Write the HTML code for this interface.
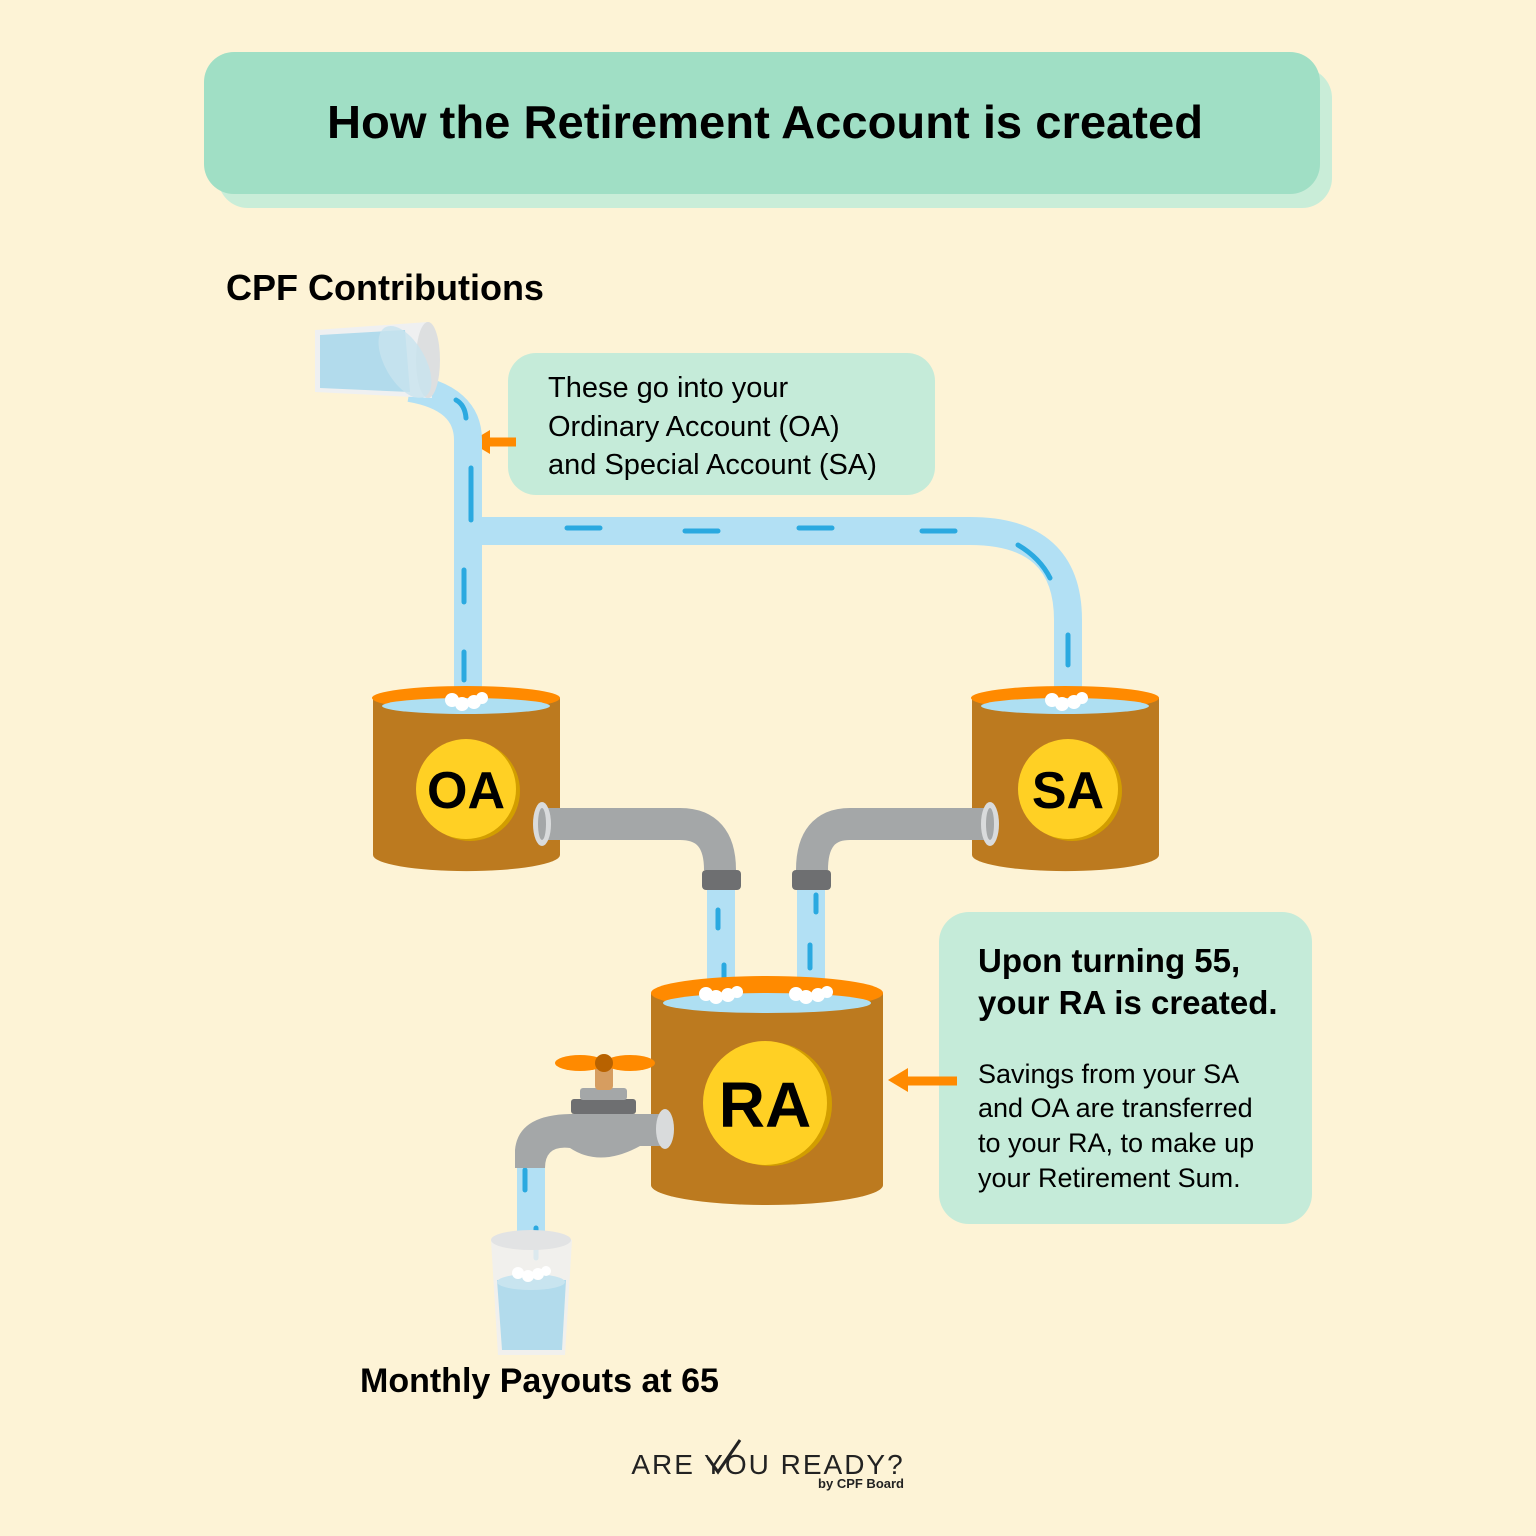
<!DOCTYPE html>
<html><head><meta charset="utf-8"><style>
html,body{margin:0;padding:0;background:#FDF3D6}
svg{display:block}
text{font-family:"Liberation Sans","DejaVu Sans",sans-serif}
</style></head><body>
<svg width="1536" height="1536" viewBox="0 0 1536 1536" xmlns="http://www.w3.org/2000/svg">
<rect width="1536" height="1536" fill="#FDF3D6"/>
<rect x="218" y="68" width="1114" height="140" rx="30" fill="#C9EDD8"/>
<rect x="204" y="52" width="1116" height="142" rx="30" fill="#A0DFC5"/>
<text x="765" y="138" font-size="46" font-weight="bold" text-anchor="middle" fill="#000" textLength="876" lengthAdjust="spacingAndGlyphs">How the Retirement Account is created</text>
<text x="226" y="300" font-size="36" font-weight="bold" fill="#000">CPF Contributions</text>

<rect x="508" y="353" width="427" height="142" rx="28" fill="#C5EBD9"/>
<text font-size="29" fill="#000"><tspan x="548" y="397">These go into your</tspan><tspan x="548" y="436">Ordinary Account (OA)</tspan><tspan x="548" y="474">and Special Account (SA)</tspan></text>
<path d="M516 442 H488" stroke="#FF8A00" stroke-width="9"/><polygon points="470,442 490,430 490,454" fill="#FF8A00"/>

<path d="M410 388 Q468 398 468 440 V700" fill="none" stroke="#B2E0F4" stroke-width="28"/>
<path d="M468 531 H970 Q1068 531 1068 620 V700" fill="none" stroke="#B2E0F4" stroke-width="28"/>
<g stroke="#2AA9E0" stroke-width="5" stroke-linecap="round" fill="none">
<path d="M456 400 Q465 405 466 418"/>
<path d="M471 468 V520"/><path d="M464 570 V602"/><path d="M464 652 V680"/>
<path d="M567 528 H600"/><path d="M685 531 H718"/><path d="M799 528 H832"/><path d="M922 531 H955"/>
<path d="M1018 545 Q1040 558 1050 578"/><path d="M1068 635 V665"/>
</g>
<path d="M315 330 L428 322 L432 398 L315 392 Z" fill="#EFF0F1"/>
<path d="M320 335 L405 330 L410 392 L320 388 Z" fill="#B2DBEC"/>
<ellipse cx="428" cy="360" rx="12" ry="38" fill="#DDDFE0"/>
<ellipse cx="405" cy="362" rx="20" ry="40" fill="#C8E4EF" opacity="0.8" transform="rotate(-30 405 362)"/>

<path d="M373 698 V855 A93 16 0 0 0 560 855 V698 Z" fill="#BC7A1F"/>
<ellipse cx="466" cy="698" rx="94" ry="12" fill="#FF8A00"/>
<ellipse cx="466" cy="706" rx="84" ry="8" fill="#AEDFF2"/>
<path d="M972 698 V855 A93 16 0 0 0 1159 855 V698 Z" fill="#BC7A1F"/>
<ellipse cx="1065" cy="698" rx="94" ry="12" fill="#FF8A00"/>
<ellipse cx="1065" cy="706" rx="84" ry="8" fill="#AEDFF2"/>
<g fill="#fff">
<circle cx="452" cy="700" r="7"/><circle cx="462" cy="704" r="7"/><circle cx="474" cy="702" r="7"/><circle cx="482" cy="698" r="6"/>
<circle cx="1052" cy="700" r="7"/><circle cx="1062" cy="704" r="7"/><circle cx="1074" cy="702" r="7"/><circle cx="1082" cy="698" r="6"/>
</g>
<circle cx="470" cy="791" r="50" fill="#D29E00"/><circle cx="466" cy="789" r="50" fill="#FFD024"/>
<text x="466" y="808" font-size="52" font-weight="bold" text-anchor="middle">OA</text>
<circle cx="1072" cy="791" r="50" fill="#D29E00"/><circle cx="1068" cy="789" r="50" fill="#FFD024"/>
<text x="1068" y="808" font-size="52" font-weight="bold" text-anchor="middle">SA</text>

<path d="M545 824 H680 Q720 824 720 870" fill="none" stroke="#A4A7A8" stroke-width="32"/>
<path d="M985 824 H850 Q812 824 812 870" fill="none" stroke="#A4A7A8" stroke-width="32"/>
<ellipse cx="542" cy="824" rx="9" ry="22" fill="#D9DBDC"/><ellipse cx="542" cy="824" rx="4" ry="16" fill="#A4A7A8"/>
<ellipse cx="990" cy="824" rx="9" ry="22" fill="#D9DBDC"/><ellipse cx="990" cy="824" rx="4" ry="16" fill="#A4A7A8"/>
<rect x="702" y="870" width="39" height="20" rx="4" fill="#6E6F71"/>
<rect x="792" y="870" width="39" height="20" rx="4" fill="#6E6F71"/>
<rect x="707" y="890" width="28" height="100" fill="#B2E0F4"/>
<rect x="797" y="890" width="28" height="100" fill="#B2E0F4"/>
<g stroke="#2AA9E0" stroke-width="5" stroke-linecap="round"><path d="M718 910 V928"/><path d="M724 965 V985"/><path d="M816 895 V912"/><path d="M810 945 V968"/></g>

<path d="M651 993 V1185 A116 20 0 0 0 883 1185 V993 Z" fill="#BC7A1F"/>
<ellipse cx="767" cy="993" rx="116" ry="17" fill="#FF8A00"/>
<ellipse cx="767" cy="1003" rx="104" ry="10" fill="#AEDFF2"/>
<g fill="#fff">
<circle cx="706" cy="994" r="7"/><circle cx="716" cy="997" r="7"/><circle cx="728" cy="995" r="7"/><circle cx="737" cy="992" r="6"/>
<circle cx="796" cy="994" r="7"/><circle cx="806" cy="997" r="7"/><circle cx="818" cy="995" r="7"/><circle cx="827" cy="992" r="6"/>
</g>
<circle cx="770" cy="1104" r="62" fill="#D29E00"/><circle cx="765" cy="1103" r="62" fill="#FFD024"/>
<text x="765" y="1127" font-size="64" font-weight="bold" text-anchor="middle">RA</text>

<rect x="517" y="1165" width="28" height="75" fill="#B2E0F4"/>
<path d="M525 1170 V1190" stroke="#2AA9E0" stroke-width="5" stroke-linecap="round"/>
<path d="M536 1228 V1258" stroke="#2AA9E0" stroke-width="5" stroke-linecap="round"/>
<path d="M515 1168 V1150 Q518 1115 570 1114 H665 V1146 H640 Q600 1168 570 1148 Q545 1145 545 1168 Z" fill="#A4A7A8"/>
<ellipse cx="665" cy="1129" rx="9" ry="20" fill="#D9DBDC"/>
<rect x="571" y="1099" width="65" height="15" rx="3" fill="#6E6F71"/>
<rect x="580" y="1088" width="47" height="12" rx="3" fill="#A4A7A8"/>
<rect x="595" y="1062" width="18" height="28" rx="4" fill="#D69D60"/>
<ellipse cx="580" cy="1063" rx="25" ry="8" fill="#FF8A00"/>
<ellipse cx="630" cy="1063" rx="25" ry="8" fill="#FF8A00"/>
<circle cx="604" cy="1063" r="9" fill="#B86200"/>
<path d="M491 1240 L572 1240 L565 1355 L498 1355 Z" fill="#F0F0F0" opacity="0.9"/>
<ellipse cx="531" cy="1240" rx="40" ry="10" fill="#E2E3E4"/>
<path d="M497 1280 L566 1280 L562 1350 L502 1350 Z" fill="#B2DBEC"/>
<ellipse cx="531" cy="1282" rx="34" ry="8" fill="#C8E4EF"/>
<g fill="#fff"><circle cx="518" cy="1273" r="6"/><circle cx="528" cy="1276" r="6"/><circle cx="538" cy="1274" r="6"/><circle cx="546" cy="1271" r="5"/></g>
<text x="360" y="1392" font-size="34" font-weight="bold">Monthly Payouts at 65</text>

<rect x="939" y="912" width="373" height="312" rx="30" fill="#C5EBD9"/>
<text font-size="33" font-weight="bold"><tspan x="978" y="972">Upon turning 55,</tspan><tspan x="978" y="1014">your RA is created.</tspan></text>
<text font-size="27"><tspan x="978" y="1083">Savings from your SA</tspan><tspan x="978" y="1117">and OA are transferred</tspan><tspan x="978" y="1152">to your RA, to make up</tspan><tspan x="978" y="1187">your Retirement Sum.</tspan></text>
<path d="M957 1081 H906" stroke="#FF8A00" stroke-width="9"/><polygon points="888,1080 908,1068 908,1092" fill="#FF8A00"/>

<text x="768" y="1474" font-size="28" text-anchor="middle" letter-spacing="2" fill="#222">ARE YOU READY?</text>
<path d="M708 1458 L718 1472 L740 1440" stroke="#222" stroke-width="3" fill="none"/>
<text x="904" y="1488" font-size="13" font-weight="bold" text-anchor="end" fill="#222">by CPF Board</text>
</svg>
</body></html>
